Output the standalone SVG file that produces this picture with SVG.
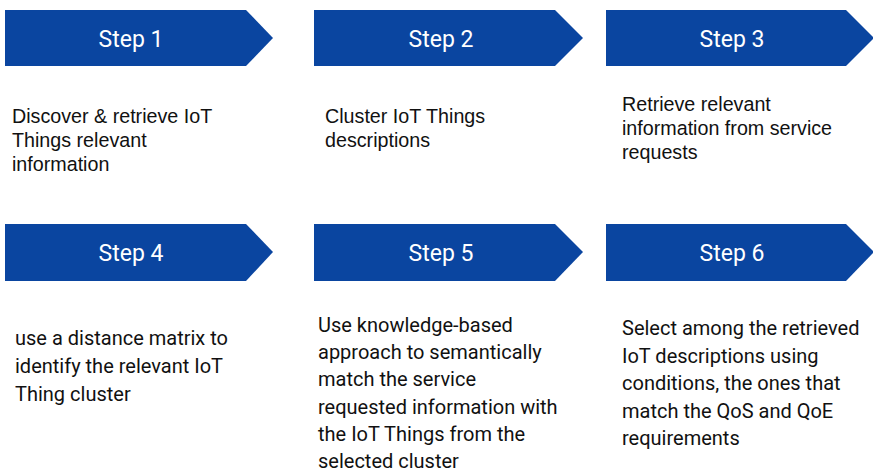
<svg xmlns="http://www.w3.org/2000/svg" width="873" height="474" viewBox="0 0 873 474">
  <style>
    .chev { fill: #0A45A0; }
    .head { font-family: Roboto, "Liberation Sans", sans-serif; font-size: 23px; fill: #ffffff; text-anchor: middle; }
    .desc-a { font-family: "Liberation Sans", Arial, sans-serif; font-size: 19.7px; fill: #111111; }
    .desc-b { font-family: Roboto, "Liberation Sans", sans-serif; font-size: 20px; fill: #111111; }
  </style>
  <rect width="873" height="474" fill="#ffffff"/>

  <g id="step1">
    <polygon class="chev" points="5,10 246,10 273,38 246,66 5,66"/>
    <text class="head" x="131" y="47">Step 1</text>
    <text class="desc-a" x="12" y="123">Discover &amp; retrieve IoT</text>
    <text class="desc-a" x="12" y="147">Things relevant</text>
    <text class="desc-a" x="12" y="171">information</text>
  </g>

  <g id="step2">
    <polygon class="chev" points="314,10 555,10 583,38 555,66 314,66"/>
    <text class="head" x="441" y="47">Step 2</text>
    <text class="desc-a" x="325" y="123">Cluster IoT Things</text>
    <text class="desc-a" x="325" y="147">descriptions</text>
  </g>

  <g id="step3">
    <polygon class="chev" points="606,10 846,10 874,38 846,66 606,66"/>
    <text class="head" x="732" y="47">Step 3</text>
    <text class="desc-a" x="622" y="111">Retrieve relevant</text>
    <text class="desc-a" x="622" y="135">information from service</text>
    <text class="desc-a" x="622" y="159">requests</text>
  </g>

  <g id="step4">
    <polygon class="chev" points="5,224 246,224 273,252 246,281 5,281"/>
    <text class="head" x="131" y="261">Step 4</text>
    <text class="desc-b" x="15" y="345">use a distance matrix to</text>
    <text class="desc-b" x="15" y="373">identify the relevant IoT</text>
    <text class="desc-b" x="15" y="401">Thing cluster</text>
  </g>

  <g id="step5">
    <polygon class="chev" points="314,224 555,224 583,252 555,281 314,281"/>
    <text class="head" x="441" y="261">Step 5</text>
    <text class="desc-b" x="318" y="332">Use knowledge-based</text>
    <text class="desc-b" x="318" y="359">approach to semantically</text>
    <text class="desc-b" x="318" y="386">match the service</text>
    <text class="desc-b" x="318" y="414">requested information with</text>
    <text class="desc-b" x="318" y="441">the IoT Things from the</text>
    <text class="desc-b" x="318" y="468">selected cluster</text>
  </g>

  <g id="step6">
    <polygon class="chev" points="606,224 846,224 874,252 846,281 606,281"/>
    <text class="head" x="732" y="261">Step 6</text>
    <text class="desc-b" x="622" y="335">Select among the retrieved</text>
    <text class="desc-b" x="622" y="363">IoT descriptions using</text>
    <text class="desc-b" x="622" y="390">conditions, the ones that</text>
    <text class="desc-b" x="622" y="418">match the QoS and QoE</text>
    <text class="desc-b" x="622" y="445">requirements</text>
  </g>

  <g id="connectors"/>
</svg>
